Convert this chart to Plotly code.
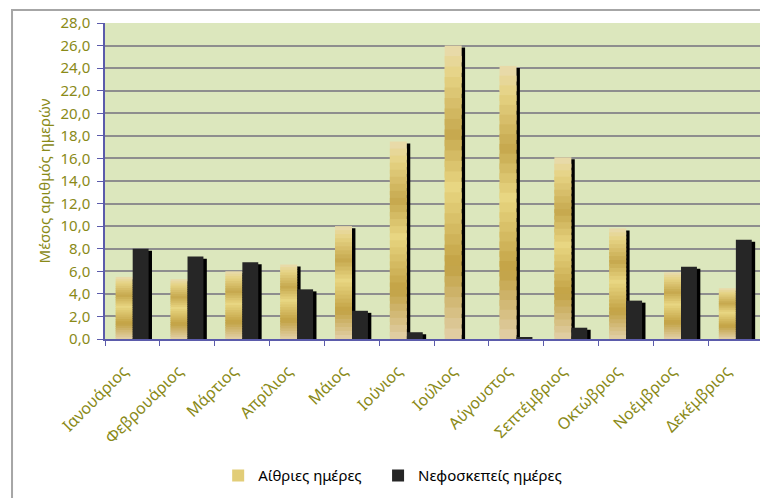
import plotly.graph_objects as go

months = ["Ιανουάριος", "Φεβρουάριος", "Μάρτιος", "Απρίλιος", "Μάιος", "Ιούνιος",
          "Ιούλιος", "Αύγουστος", "Σεπτέμβριος", "Οκτώβριος", "Νοέμβριος", "Δεκέμβριος"]
clear_days = [5.5, 5.3, 6.0, 6.6, 10.0, 17.5, 26.0, 24.2, 16.1, 9.8, 5.9, 4.5]
cloudy_days = [8.0, 7.3, 6.8, 4.4, 2.5, 0.6, 0.0, 0.15, 1.0, 3.4, 6.4, 8.8]
y_ticks = [0, 2, 4, 6, 8, 10, 12, 14, 16, 18, 20, 22, 24, 26, 28]

FONT = "Noto Sans"
OLIVE = "#8a8a18"
AXIS_BLUE = "#5b5bab"
DARK = "#262626"

# gold gradient stops (fraction from top of bar, colour)
GOLD_STOPS = [(0.00, (0xe8, 0xdb, 0xb0)), (0.10, (0xe6, 0xd3, 0x84)),
              (0.30, (0xc6, 0xa8, 0x4e)), (0.48, (0xe8, 0xd6, 0x82)),
              (0.75, (0xc2, 0xa2, 0x44)), (1.00, (0xe2, 0xd0, 0xa8))]


def grad(t):
    for (t0, c0), (t1, c1) in zip(GOLD_STOPS[:-1], GOLD_STOPS[1:]):
        if t0 <= t <= t1:
            f = (t - t0) / (t1 - t0)
            c = [round(a + (b - a) * f) for a, b in zip(c0, c1)]
            return "rgb(%d,%d,%d)" % tuple(c)
    return "rgb(%d,%d,%d)" % GOLD_STOPS[-1][1]


W_GOLD, W_DARK = 0.31, 0.29
OFF_GOLD, OFF_DARK = -0.305, 0.005
SH_DX, SH_DY = 0.062, 0.18
N_SEG = 28
OVERLAP = 0.6

fig = go.Figure()
# shadows (3D side look)
fig.add_trace(go.Bar(x=months, y=[max(v - SH_DY, 0) for v in clear_days], width=W_GOLD,
                     offset=OFF_GOLD + SH_DX, marker=dict(color="#000000", line_width=0),
                     showlegend=False, hoverinfo="skip"))
fig.add_trace(go.Bar(x=months, y=[max(v - SH_DY, 0) for v in cloudy_days], width=W_DARK,
                     offset=OFF_DARK + SH_DX, marker=dict(color="#000000", line_width=0),
                     showlegend=False, hoverinfo="skip"))
# gold bars drawn as a vertical gradient of stacked bands (each band reaches a bit
# below its slot; the next band, drawn later, covers the overlap)
for k in range(N_SEG):
    t = (k + 0.5) / N_SEG
    tops = [v * (1 - k / N_SEG) for v in clear_days]
    bases = [max(0.0, v * (1 - (k + 1 + OVERLAP) / N_SEG)) for v in clear_days]
    fig.add_trace(go.Bar(x=months, y=[a - b for a, b in zip(tops, bases)], base=bases,
                         width=W_GOLD, offset=OFF_GOLD,
                         marker=dict(color=grad(t), line_width=0),
                         name="Αίθριες ημέρες", legend="legend",
                         showlegend=(k == N_SEG // 2 - 2), hoverinfo="skip"))
fig.add_trace(go.Bar(x=months, y=cloudy_days, width=W_DARK, offset=OFF_DARK,
                     name="Νεφοσκεπείς ημέρες", legend="legend2",
                     marker=dict(color=DARK, line_width=0)))

legend_style = dict(orientation="h", xanchor="left", y=-0.433, yanchor="middle",
                    font=dict(family=FONT, color="black", size=15), itemwidth=30,
                    bgcolor="rgba(0,0,0,0)")

fig.update_layout(
    width=760, height=490,
    margin=dict(l=97, r=5, t=15, b=156),
    barmode="overlay",
    paper_bgcolor="white",
    plot_bgcolor="#dce7bd",
    separators=",.",
    font=dict(family=FONT, color=OLIVE, size=15),
    showlegend=True,
    legend=dict(x=0.172, **legend_style),
    legend2=dict(x=0.415, **legend_style),
    xaxis=dict(type="category", showgrid=False, showline=True, linecolor=AXIS_BLUE,
               linewidth=1.5, ticks="outside", tickson="boundaries", tickcolor=AXIS_BLUE,
               ticklen=5, tickangle=-45, ticklabelstandoff=15, ticklabelshift=-9,
               tickfont=dict(size=16, color=OLIVE)),
    yaxis=dict(range=[0, 28], tickvals=y_ticks, tickformat=".1f", showgrid=True,
               gridcolor="#8e8e8e", gridwidth=1.5, showline=True, linecolor=AXIS_BLUE,
               linewidth=1.5, ticks="outside", tickcolor=AXIS_BLUE, ticklen=6,
               ticklabelstandoff=4,
               tickfont=dict(size=15, color=OLIVE), zeroline=False,
               title=dict(text="Μέσος αριθμός ημερών", font=dict(size=15, color=OLIVE),
                          standoff=6)),
    shapes=[dict(type="rect", xref="paper", yref="paper", x0=-0.1413, x1=1.05,
                 y0=-0.7, y1=1.0408, line=dict(color="#a6a6a6", width=2),
                 fillcolor="rgba(0,0,0,0)", layer="below")],
)

fig.write_html("out.html")
